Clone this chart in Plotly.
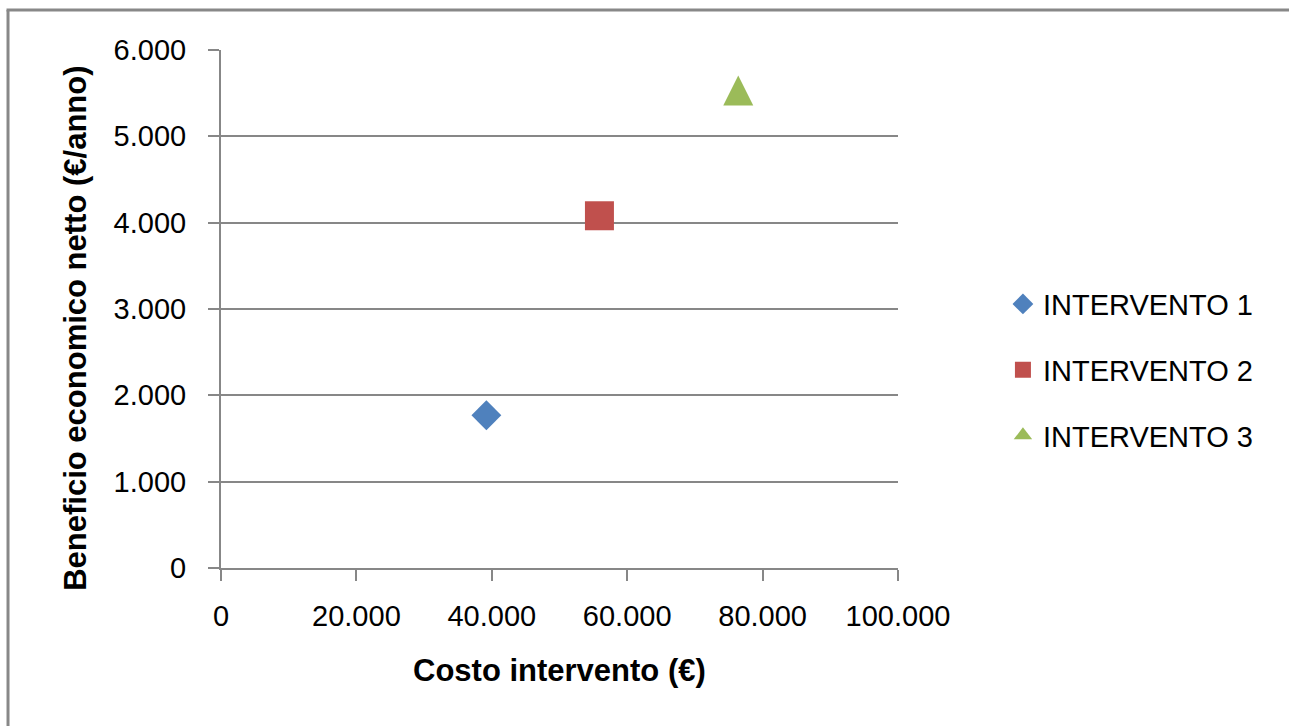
import plotly.graph_objects as go

# Intervention data: cost (€) vs net yearly economic benefit (€/anno)
series_names = ["INTERVENTO 1", "INTERVENTO 2", "INTERVENTO 3"]
costo = [39200, 55900, 76400]
beneficio = [1770, 4080, 5530]
colors = ["#4F81BD", "#C0504D", "#9BBB59"]

x_ticks = [0, 20000, 40000, 60000, 80000, 100000]
y_ticks = [0, 1000, 2000, 3000, 4000, 5000, 6000]

AXIS_GREY = "#878787"
FONT = "Liberation Sans, Arial, sans-serif"

# upright triangle centred on its point: arrow-down rotated 180°,
# shifted back by half its size
TRIANGLE = dict(symbol="arrow-down", size=30, angle=180, standoff=15)

marker_styles = [
    dict(symbol="diamond", size=23),
    dict(symbol="square", size=29),
    TRIANGLE,
]

fig = go.Figure()
for i, name in enumerate(series_names):
    is_triangle = marker_styles[i] is TRIANGLE
    fig.add_trace(go.Scatter(
        x=[costo[i]], y=[beneficio[i]], mode="markers", name=name,
        legendgroup=name, showlegend=not is_triangle,
        marker=dict(color=colors[i], line=dict(width=0), **marker_styles[i]),
    ))
    if is_triangle:
        # legend entry drawn with the plain triangle symbol
        fig.add_trace(go.Scatter(
            x=[None], y=[None], mode="markers", name=name, legendgroup=name,
            marker=dict(color=colors[i], line=dict(width=0),
                        symbol="triangle-up", size=16),
        ))

fig.update_layout(
    width=1289, height=726,
    margin=dict(l=221, r=391, t=50, b=158),
    paper_bgcolor="white", plot_bgcolor="white",
    separators=",.",
    font=dict(family=FONT, size=29, color="#000000"),
    showlegend=True,
    legend=dict(x=1.155, y=0.382, xanchor="left", yanchor="middle",
                font=dict(family=FONT, size=29, color="#000000"),
                bgcolor="rgba(0,0,0,0)", tracegroupgap=25),
    xaxis=dict(range=[0, 100000], tickvals=x_ticks, tickformat=",d",
               showgrid=False, zeroline=False, showline=True,
               linecolor=AXIS_GREY, linewidth=2,
               ticks="outside", ticklen=11, tickwidth=2, tickcolor=AXIS_GREY,
               tickfont=dict(family=FONT, size=29), ticklabelstandoff=10),
    yaxis=dict(range=[0, 6000], tickvals=y_ticks, tickformat=",d",
               showgrid=True, gridcolor=AXIS_GREY, gridwidth=1.5,
               zeroline=False, showline=True,
               linecolor=AXIS_GREY, linewidth=2,
               ticks="outside", ticklen=11, tickwidth=1.5, tickcolor=AXIS_GREY,
               tickfont=dict(family=FONT, size=29), ticklabelstandoff=16),
    annotations=[
        dict(text="<b>Costo intervento (€)</b>", xref="paper", yref="paper",
             x=0.5, y=-0.197, xanchor="center", yanchor="middle",
             showarrow=False, font=dict(family=FONT, size=31)),
        dict(text="<b>Beneficio economico netto (€/anno)</b>", xref="paper", yref="paper",
             x=-0.214, y=0.462, xanchor="center", yanchor="middle", textangle=-90,
             showarrow=False, font=dict(family=FONT, size=31)),
    ],
    shapes=[
        dict(type="line", xref="paper", yref="paper", x0=-0.3146, x1=-0.3146,
             y0=-0.4, y1=1.0772, line=dict(color="#888888", width=3)),
        dict(type="line", xref="paper", yref="paper", x0=-0.3168, x1=1.7,
             y0=1.0772, y1=1.0772, line=dict(color="#888888", width=3)),
    ],
)

fig.write_html("out.html")
